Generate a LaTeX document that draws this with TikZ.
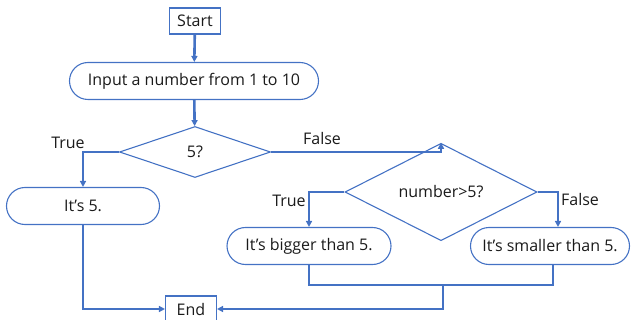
\documentclass[tikz,border=0pt]{standalone}
\usepackage{fontspec}
\setmainfont{Open Sans}
\usetikzlibrary{arrows.meta,positioning,shapes.geometric,shapes.misc}
\definecolor{linec}{HTML}{4472C4}
\definecolor{txtc}{HTML}{1A1A1A}
\tikzset{
  ar/.style={-{Triangle[length=6pt,width=6pt]},line width=2.6pt,linec},
  ln/.style={line width=2.6pt,linec},
  boxn/.style={draw=linec,line width=1.1pt,rectangle,text=txtc,minimum width=51pt,minimum height=26pt,inner sep=0pt},
  term/.style={draw=linec,line width=1.1pt,rounded rectangle,text=txtc,minimum height=37pt,inner sep=0pt},
  dec/.style={draw=linec,line width=1.1pt,diamond,text=txtc,minimum height=51pt,inner sep=0pt},
  lbl/.style={text=txtc,inner sep=0pt}
}
\begin{document}
\begin{tikzpicture}[x=1pt,y=-1pt,font=\fontsize{16}{19}\selectfont]
\useasboundingbox (0,0) rectangle (631,320);
% shapes
\node[boxn] (start) at (195,21) {Start};
\node[term,minimum width=249pt] (input) at (194,81) {Input a number from 1 to 10};
\node[dec,minimum width=151pt] (dia1) at (195,152) {5?};
\node[term,minimum width=153pt] (five) at (83,206) {It’s 5.};
\node[dec,minimum width=192pt] (dia2) at (441,192) {number>5?};
\node[term,minimum width=164pt] (big) at (309,246) {It’s bigger than 5.};
\node[term,minimum width=159pt] (small) at (550,246) {It’s smaller than 5.};
\node[boxn] (end) at (191,309) {End};
\coordinate (mg) at (443,285);
% labels
\node[lbl] (t1) at (68,143) {True};
\node[lbl] (f1) at (322,139) {False};
\node[lbl] (t2) at (289,201) {True};
\node[lbl] (f2) at (580,200) {False};
% connectors
\draw[ar] (start) -- (input);
\draw[ar] (input) -- (dia1);
\draw[ar] (dia1.west) -| (five.north);
\draw[ar] (dia1.east) -| (dia2.north);
\draw[ar] (dia2.west) -| (big.north);
\draw[ar] (dia2.east) -| ([xshift=8pt]small.north);
\draw[ar] (five.south) |- (end.west);
\draw[ln] (big.south) |- (mg) -| ([xshift=3pt]small.south);
\draw[ar] (mg) |- (end.east);
\end{tikzpicture}
\end{document}
